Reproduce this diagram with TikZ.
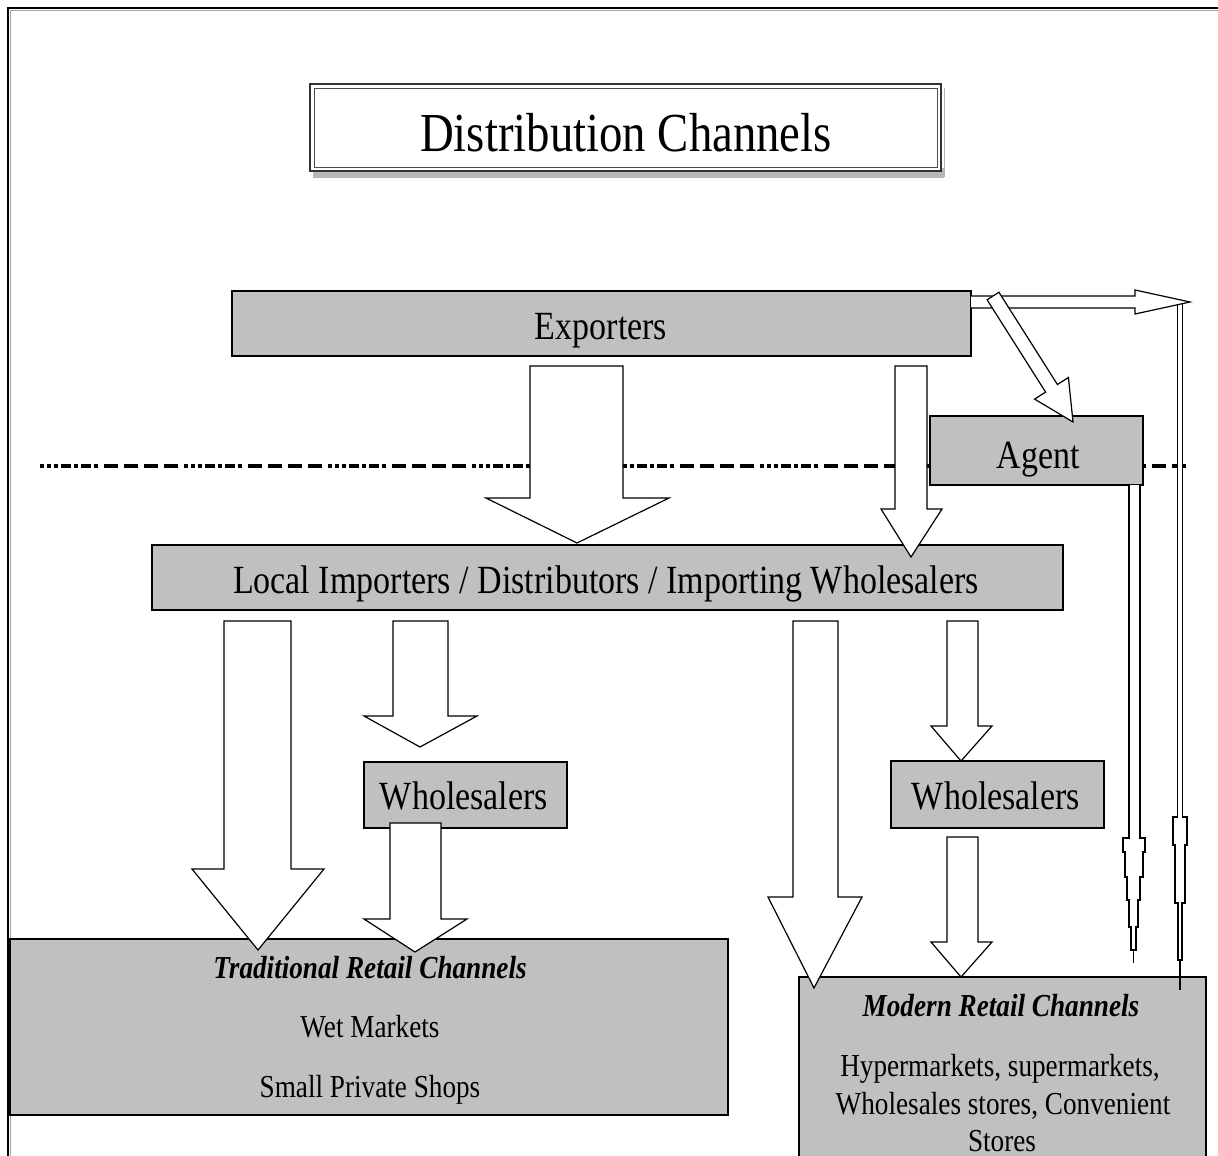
\documentclass[tikz,border=0pt]{standalone}
\usepackage{fontspec}
\setmainfont{Liberation Serif}[FakeStretch=0.85]
\definecolor{boxgray}{HTML}{C0C0C0}
\tikzset{
  box/.style={draw=black, fill=boxgray, line width=1.4pt, inner sep=0pt},
  txt/.style={anchor=base, inner sep=0pt, font=\fontsize{40}{44}\selectfont},
  smalltxt/.style={anchor=base, inner sep=0pt, font=\fontsize{32}{36}\selectfont},
  headtxt/.style={anchor=base, inner sep=0pt, font=\fontsize{32}{36}\selectfont\bfseries\itshape},
  barrow/.style={draw=black, fill=white, line width=1.2pt, line join=miter},
  slim/.style={draw=black, fill=white, line width=1.1pt},
  sepline/.style={line width=4pt, dash pattern=on 4pt off 3pt on 4pt off 3pt on 4pt off 3pt on 10pt off 3pt on 4pt off 3pt on 10pt off 3pt on 4pt off 6pt on 14pt off 6pt on 14pt off 6pt on 14pt off 6pt on 14pt off 6pt},
}
\newcommand{\vblock}[8]{% shaftL shaftR top headbase headL headR tipx tipy
  \draw[barrow] (#1,#3) -- (#2,#3) -- (#2,#4) -- (#6,#4) -- (#7,#8) -- (#5,#4) -- (#1,#4) -- cycle;}
\begin{document}
\begin{tikzpicture}[x=1pt,y=-1pt]
\useasboundingbox (0,0) rectangle (1218,1156);
\clip (0,0) rectangle (1218,1156);
\fill[white] (0,0) rectangle (1218,1156);

% outer frame
\draw[black, line width=2pt] (8,1160) -- (8,8) -- (1222,8);
\draw[gray!70, line width=0.8pt] (10.5,1160) -- (10.5,10.5) -- (1222,10.5);

% title
\fill[gray!55] (313,168) rectangle (944,177);
\draw[gray!60, line width=0.8pt] (313,174) -- (944,174) (313,177) -- (944,177) (944,88) -- (944,177);
\draw[black!80, line width=1.4pt, fill=white] (310,84) rectangle (941,171);
\node[draw=black!70, line width=1pt, minimum width=623pt, minimum height=79pt, inner sep=0pt] (titlebox) at (625.5,127.5) {};
\node[anchor=base, inner sep=0pt, font=\fontsize{55}{60}\selectfont] (title) at (626,151) {Distribution Channels};

% separator
\draw[sepline] (40,466) -- (1188,466);

% boxes
\node[box, minimum width=739pt, minimum height=65pt] (exp) at (601.5,323.5) {};
\node[box, minimum width=213pt, minimum height=69pt] (agent) at (1036.5,450.5) {};
\node[box, minimum width=911pt, minimum height=65pt] (local) at (607.5,577.5) {};
\node[box, minimum width=203pt, minimum height=66pt] (wsl) at (465.5,795) {};
\node[box, minimum width=213pt, minimum height=67pt] (wsr) at (997.5,794.5) {};
\node[box, minimum width=718pt, minimum height=176pt] (trad) at (369,1027) {};
\node[box, minimum width=407pt, minimum height=200pt] (modern) at (1002.5,1077) {};

% thin tapered arrows
\draw[slim] (1177.5,304) -- (1177.5,817) -- (1173,817) -- (1173,845) -- (1175,845) -- (1175,903) -- (1178,903) -- (1178,960) -- (1182,960) -- (1182,903) -- (1185,903) -- (1185,845) -- (1187,845) -- (1187,817) -- (1182.5,817) -- (1182.5,304);
\draw[black, line width=1.1pt] (1180,960) -- (1180,990);
\draw[slim] (1129,485) -- (1129,838) -- (1123,838) -- (1123,852) -- (1125,852) -- (1125,877) -- (1127,877) -- (1127,900) -- (1129,900) -- (1129,927) -- (1131,927) -- (1131,950) -- (1136,950) -- (1136,927) -- (1138,927) -- (1138,900) -- (1140,900) -- (1140,877) -- (1143,877) -- (1143,852) -- (1145,852) -- (1145,838) -- (1140,838) -- (1140,485);
\draw[black, line width=1.1pt] (1133.5,950) -- (1133.5,963);

% exporters -> right
\draw[barrow] (971,296) -- (1135,296) -- (1135,290) -- (1190,302) -- (1135,314) -- (1135,308) -- (971,308);
% exporters -> agent
\draw[barrow] (987.1,299.8) -- (998.9,292.2) -- (1057.4,384.5) -- (1068.4,377.5) -- (1073,422) -- (1034.6,399.1) -- (1045.6,392.1) -- cycle;

% block arrows
\vblock{530}{623}{366}{498}{486}{669}{577}{543}
\vblock{895}{927}{366}{509}{881}{942}{911}{557}
\vblock{224}{291}{621}{869}{192}{324}{258}{950}
\vblock{393}{448}{621}{716}{364}{477}{420}{747}
\vblock{390}{441}{823}{919}{364}{467}{415}{952}
\vblock{793}{838}{621}{897}{768}{862}{814}{988}
\vblock{947}{978}{621}{726}{931}{992}{961}{761}
\vblock{947}{978}{837}{942}{931}{992}{961}{977}

% texts
\node[txt] (expt) at (601,339) {Exporters};
\node[txt] (agentt) at (1038,468) {Agent};
\node[txt] (localt) at (606,593) {Local Importers / Distributors / Importing Wholesalers};
\node[txt] (wslt) at (464,809) {Wholesalers};
\node[txt] (wsrt) at (996,809) {Wholesalers};
\node[headtxt] (tradh) at (370,978) {Traditional Retail Channels};
\node[smalltxt] (trad1) at (370,1037) {Wet Markets};
\node[smalltxt] (trad2) at (370,1097) {Small Private Shops};
\node[headtxt] (modh) at (1001,1016) {Modern Retail Channels};
\node[smalltxt] (mod1) at (1000,1076) {Hypermarkets, supermarkets,};
\node[smalltxt] (mod2) at (1003,1114) {Wholesales stores, Convenient};
\node[smalltxt] (mod3) at (1002,1151) {Stores};
\end{tikzpicture}
\end{document}
